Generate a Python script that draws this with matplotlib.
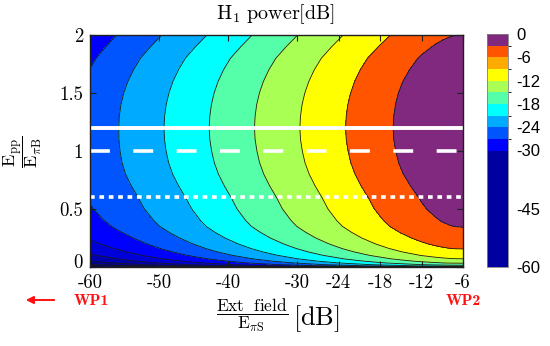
import numpy as np
import matplotlib
matplotlib.use("Agg")
import matplotlib.pyplot as plt
import matplotlib.transforms as mtransforms
from matplotlib.colors import ListedColormap, BoundaryNorm
import matplotlib.cm as cm

plt.rcParams['mathtext.fontset'] = 'cm'

# ---- data ----
# H1 power (dB) along the line Epp/EpiB = 1.2, as a function of the external field (dB)
ext_field_db = [-60, -57, -54, -51, -48, -45, -42, -39, -36, -33, -30, -27, -24, -21,
                -18, -15, -12, -10, -9, -8, -7, -6]
power_vs_field = [-48.8, -46.06, -43.31, -40.57, -37.82, -35.07, -32.32, -29.57, -26.83,
                  -24.09, -21.35, -18.62, -15.90, -13.21, -10.58, -8.06, -5.77, -4.50,
                  -3.98, -3.58, -3.33, -3.26]
# how strongly the low-field columns flatten below the optimum (read from the left edge)
left_weight = [1.0, 0.6, 0.35, 0.2, 0.1, 0, 0, 0, 0, 0, 0, 0, 0, 0, 0, 0, 0, 0, 0, 0, 0, 0]

# relative change of H1 power (dB) with Epp/EpiB
epp_ratio = [0, 0.005, 0.01, 0.02, 0.035, 0.05, 0.07, 0.1, 0.13, 0.16, 0.2, 0.25, 0.3,
             0.35, 0.4, 0.5, 0.6, 0.7, 0.8, 0.9, 1.0, 1.1, 1.2, 1.3, 1.4, 1.5, 1.6, 1.7,
             1.8, 1.9, 2.0]
power_vs_epp = [-60, -37.9, -32.6, -27.3, -23.1, -20.4, -17.8, -15.1, -13.1, -11.5, -9.8,
                -8.1, -6.75, -5.6, -4.85, -3.7, -2.9, -2.0, -1.23, -0.67, -0.32, -0.08,
                0.0, -0.08, -0.29, -0.65, -1.18, -1.9, -2.83, -4.2, -5.7]
lower_flattening = [0, 0, 0, 0, 0, 0, 0, 0, 0.1, 0.25, 0.4, 0.6, 0.8, 0.95, 1.05, 1.15,
                    1.1, 0.95, 0.75, 0.5, 0.3, 0.1, 0, 0, 0, -0.05, -0.1, -0.2, -0.2,
                    -0.15, 0]

plot_levels = [-200, -81, -75, -69, -63, -57, -51, -45, -39, -33, -27, -21, -15, -9, 20]
plot_colors = ['#000070', '#000080', '#000096', '#0000B0', '#0000D8', '#0000FF', '#0055FF',
               '#00AAFF', '#00FFFF', '#55FFAA', '#AAFF55', '#FFFF00', '#FF5500', '#80297F']

cbar_bounds = [-60, -30, -27, -24, -21, -18, -15, -12, -9, -6, -3, 0]
cbar_colors = ['#0000A0', '#0000FF', '#0055FF', '#00AAFF', '#00FFFF', '#55FFAA',
               '#AAFF55', '#FFFF00', '#FFAA00', '#FF5500', '#80297F']
cbar_ticks = [0, -6, -12, -18, -24, -30, -45, -60]

x_ticks = [-60, -50, -40, -30, -24, -18, -12, -6]
y_ticks = [0, 0.5, 1, 1.5, 2]
y_ticklabels = ['0', '0.5', '1', '1.5', '2']

wp_lines = [1.2, 1.0, 0.6]

# ---- figure ----
fig = plt.figure(figsize=(5.5, 3.46), dpi=100)
W, H = 550, 346
ax = fig.add_axes([90 / W, (H - 267) / H, 373 / W, (267 - 35) / H])

X, Y = np.meshgrid(np.array(ext_field_db), np.array(epp_ratio))
Z = (np.array(power_vs_field)[None, :] + np.array(power_vs_epp)[:, None]
     + np.array(left_weight)[None, :] * np.array(lower_flattening)[:, None])

ax.contourf(X, Y, Z, levels=plot_levels, colors=plot_colors)
ax.contour(X, Y, Z, levels=plot_levels[1:-1], colors='#1a1a1a', linewidths=0.6,
           linestyles='solid')

ax.axhline(wp_lines[0], color='white', lw=2.8, ls='-')
ax.axhline(wp_lines[1], color='white', lw=2.6, ls=(0, (5.5, 6.5)))
ax.axhline(wp_lines[2], color='white', lw=2.6, ls=(0, (1.3, 1.3)))

ax.set_xlim(-60, -6)
ax.set_ylim(0, 2)
ax.set_xticks(x_ticks)
ax.set_xticklabels([str(v) for v in x_ticks], fontfamily='cmr10', fontsize=13.5)
ax.set_yticks(y_ticks)
ax.set_yticklabels(y_ticklabels, fontfamily='cmr10', fontsize=13.5)
ax.tick_params(direction='in', top=True, right=True, length=4, width=0.8,
               color='#202020')
ax.tick_params(axis='x', pad=5)
ax.tick_params(axis='y', pad=5)
for s in ax.spines.values():
    s.set_linewidth(1.0)
    s.set_color('#202020')
# the "0" label of the y axis sits a little higher, as in the reference
lab0 = ax.get_yticklabels()[0]
lab0.set_transform(lab0.get_transform() +
                   mtransforms.ScaledTranslation(0, 4 / 72, fig.dpi_scale_trans))

# title and labels
fig.text(276 / W, 1 - 14 / H, r'$\mathrm{H_1\ power[dB]}$', ha='center', va='center',
         fontsize=14.5)
fig.text(22 / W, 1 - 152 / H, r'$\dfrac{\mathrm{E_{pp}}}{\mathrm{E_{\pi B}}}$', ha='center',
         va='center', rotation=90, fontsize=13)
fig.text(252 / W, 1 - 315 / H, r'$\dfrac{\mathrm{Ext\ \ field}}{\mathrm{E_{\pi S}}}$',
         ha='center', va='center', fontsize=12.5)
fig.text(316 / W, 1 - 319 / H, r'$\mathrm{[dB]}$', ha='center', va='center', fontsize=19)

# working points
fig.text(91 / W, 1 - 301 / H, 'WP1', ha='center', va='center', fontsize=11.5,
         fontfamily='cmb10', color='#FF1010')
fig.text(463 / W, 1 - 301 / H, 'WP2', ha='center', va='center', fontsize=11.5,
         fontfamily='cmb10', color='#FF1010')
fig.add_artist(matplotlib.patches.FancyArrowPatch(
    (57 / W, 1 - 300 / H), (23 / W, 1 - 300 / H), transform=fig.transFigure,
    arrowstyle='-|>', mutation_scale=11, color='#FF1010', lw=1.4))

# colorbar
cax = fig.add_axes([487 / W, (H - 267) / H, 21 / W, (267 - 34) / H])
cmap = ListedColormap(cbar_colors)
norm = BoundaryNorm(cbar_bounds, cmap.N)
cb = fig.colorbar(cm.ScalarMappable(norm=norm, cmap=cmap), cax=cax,
                  spacing='proportional', ticks=cbar_ticks)
cb.ax.set_yticklabels([str(v) for v in cbar_ticks], fontfamily='Liberation Sans',
                      fontsize=12)
cb.ax.tick_params(length=0, pad=6)
cb.outline.set_linewidth(0.6)
cb.outline.set_edgecolor('#808080')

fig.savefig('out.png', dpi=100)
